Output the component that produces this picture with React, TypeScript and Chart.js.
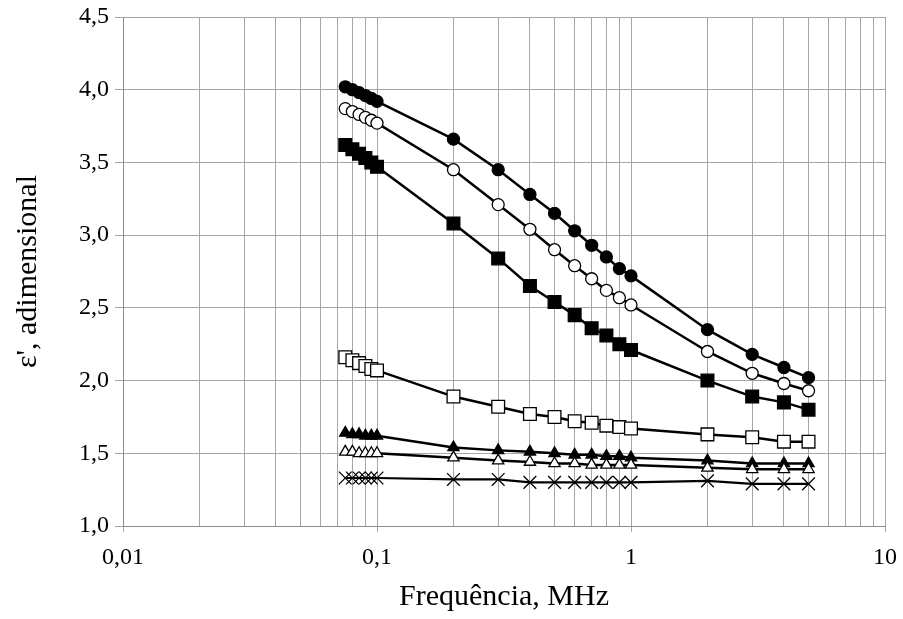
import React, { useEffect, useRef } from "react";
import { Chart, registerables } from "chart.js";

Chart.register(...registerables);

const freq = [0.075, 0.08, 0.085, 0.09, 0.095, 0.1, 0.2, 0.3, 0.4, 0.5, 0.6, 0.7, 0.8, 0.9, 1, 2, 3, 4, 5];

const filledCircle = [4.02, 4.0, 3.98, 3.96, 3.94, 3.92, 3.66, 3.45, 3.28, 3.15, 3.03, 2.93, 2.85, 2.77, 2.72, 2.35, 2.18, 2.09, 2.02];
const openCircle = [3.87, 3.85, 3.83, 3.81, 3.79, 3.77, 3.45, 3.21, 3.04, 2.9, 2.79, 2.7, 2.62, 2.57, 2.52, 2.2, 2.05, 1.98, 1.93];
const filledSquare = [3.62, 3.59, 3.56, 3.53, 3.5, 3.47, 3.08, 2.84, 2.65, 2.54, 2.45, 2.36, 2.31, 2.25, 2.21, 2.0, 1.89, 1.85, 1.8];
const openSquare = [2.16, 2.14, 2.12, 2.1, 2.08, 2.07, 1.89, 1.82, 1.77, 1.75, 1.72, 1.71, 1.69, 1.68, 1.67, 1.63, 1.61, 1.58, 1.58];
const filledTriangle = [1.64, 1.63, 1.63, 1.62, 1.62, 1.62, 1.54, 1.52, 1.51, 1.5, 1.49, 1.49, 1.48, 1.48, 1.47, 1.45, 1.43, 1.43, 1.43];
const openTriangle = [1.51, 1.51, 1.5, 1.5, 1.5, 1.5, 1.47, 1.45, 1.44, 1.43, 1.43, 1.42, 1.42, 1.42, 1.42, 1.4, 1.39, 1.39, 1.39];
const crossSeries = [1.33, 1.33, 1.33, 1.33, 1.33, 1.33, 1.32, 1.32, 1.3, 1.3, 1.3, 1.3, 1.3, 1.3, 1.3, 1.31, 1.29, 1.29, 1.29];

const xDecades = [0.01, 0.1, 1];
const xSteps = [1, 2, 3, 4, 5, 6, 7, 8, 9];
const xMax = 10;
const yMin = 1.0;
const yMax = 4.5;
const yStep = 0.5;

const GRID = "#a6a6a6";
const AXIS = "#8c8c8c";
const FONT = "'Liberation Serif', 'Times New Roman', serif";

const isMajor = (v: number) => {
  const l = Math.log10(v);
  return Math.abs(l - Math.round(l)) < 1e-6;
};

const fmtX = (v: number) => {
  const s = v >= 1 ? String(Math.round(v)) : v.toPrecision(1);
  return s.replace(".", ",");
};

function pts(ys: number[]) {
  return freq.map((x, i) => ({ x, y: ys[i] }));
}

export default function App() {
  const ref = useRef<HTMLCanvasElement | null>(null);

  useEffect(() => {
    document.body.style.margin = "0";
    const canvas = ref.current;
    if (!canvas) return;

    const xTickValues: number[] = [];
    xDecades.forEach((d) => xSteps.forEach((s) => xTickValues.push(+(d * s).toPrecision(3))));
    xTickValues.push(xMax);

    const base = {
      borderColor: "#000",
      borderWidth: 2.5,
      pointBorderColor: "#000",
      pointBorderWidth: 1.3,
      tension: 0,
      showLine: true,
    };

    const chart = new Chart(canvas, {
      type: "scatter",
      data: {
        datasets: [
          { ...base, label: "a", data: pts(crossSeries), pointStyle: "crossRot", pointRadius: 9, pointBackgroundColor: "#fff", borderWidth: 2.2 },
          { ...base, label: "b", data: pts(openTriangle), pointStyle: "triangle", pointRadius: 6.5, pointBackgroundColor: "#fff" },
          { ...base, label: "c", data: pts(filledTriangle), pointStyle: "triangle", pointRadius: 6.5, pointBackgroundColor: "#000" },
          { ...base, label: "d", data: pts(openSquare), pointStyle: "rect", pointRadius: 9, pointBackgroundColor: "#fff" },
          { ...base, label: "e", data: pts(filledSquare), pointStyle: "rect", pointRadius: 9, pointBackgroundColor: "#000" },
          { ...base, label: "f", data: pts(openCircle), pointStyle: "circle", pointRadius: 6, pointBackgroundColor: "#fff" },
          { ...base, label: "g", data: pts(filledCircle), pointStyle: "circle", pointRadius: 6, pointBackgroundColor: "#000" },
        ] as any,
      },
      options: {
        responsive: false,
        animation: false,
        layout: { padding: { top: 17, right: 18, left: 0, bottom: 0 } },
        plugins: { legend: { display: false }, tooltip: { enabled: false } },
        scales: {
          x: {
            type: "logarithmic",
            min: 0.01,
            max: xMax,
            afterBuildTicks: (scale: any) => {
              scale.ticks = xTickValues.map((v) => ({ value: v, major: isMajor(v) }));
            },
            afterFit: (scale: any) => {
              scale.height = 93;
              scale.paddingLeft = 0;
              scale.paddingRight = 0;
            },
            ticks: {
              autoSkip: false,
              maxRotation: 0,
              minRotation: 0,
              padding: 11,
              color: "#000",
              font: { family: FONT, size: 24 },
              callback: (v: any) => (isMajor(Number(v)) ? fmtX(Number(v)) : ""),
            },
            grid: {
              color: GRID,
              lineWidth: 1,
              tickLength: 6,
              tickColor: (ctx: any) => (ctx.tick && isMajor(ctx.tick.value) ? GRID : "rgba(0,0,0,0)"),
            },
            border: { color: AXIS, width: 1 },
            title: {
              display: true,
              text: "Frequência, MHz",
              color: "#000",
              font: { family: FONT, size: 30 },
              padding: { top: 0, bottom: 4 },
            },
          },
          y: {
            type: "linear",
            min: yMin,
            max: yMax,
            afterFit: (scale: any) => {
              scale.width = 123;
              scale.paddingTop = 0;
              scale.paddingBottom = 0;
            },
            ticks: {
              stepSize: yStep,
              padding: 6,
              color: "#000",
              font: { family: FONT, size: 24 },
              callback: (v: any) => Number(v).toFixed(1).replace(".", ","),
            },
            grid: { color: GRID, lineWidth: 1, tickLength: 8, tickColor: GRID },
            border: { color: AXIS, width: 1 },
            title: {
              display: true,
              text: "ε', adimensional",
              color: "#000",
              font: { family: FONT, size: 30 },
              padding: { top: 10, bottom: 0 },
            },
          },
        },
      } as any,
    });

    return () => chart.destroy();
  }, []);

  return (
    <div style={{ width: 903, height: 619, background: "#fff" }}>
      <canvas ref={ref} width={903} height={619} />
    </div>
  );
}
